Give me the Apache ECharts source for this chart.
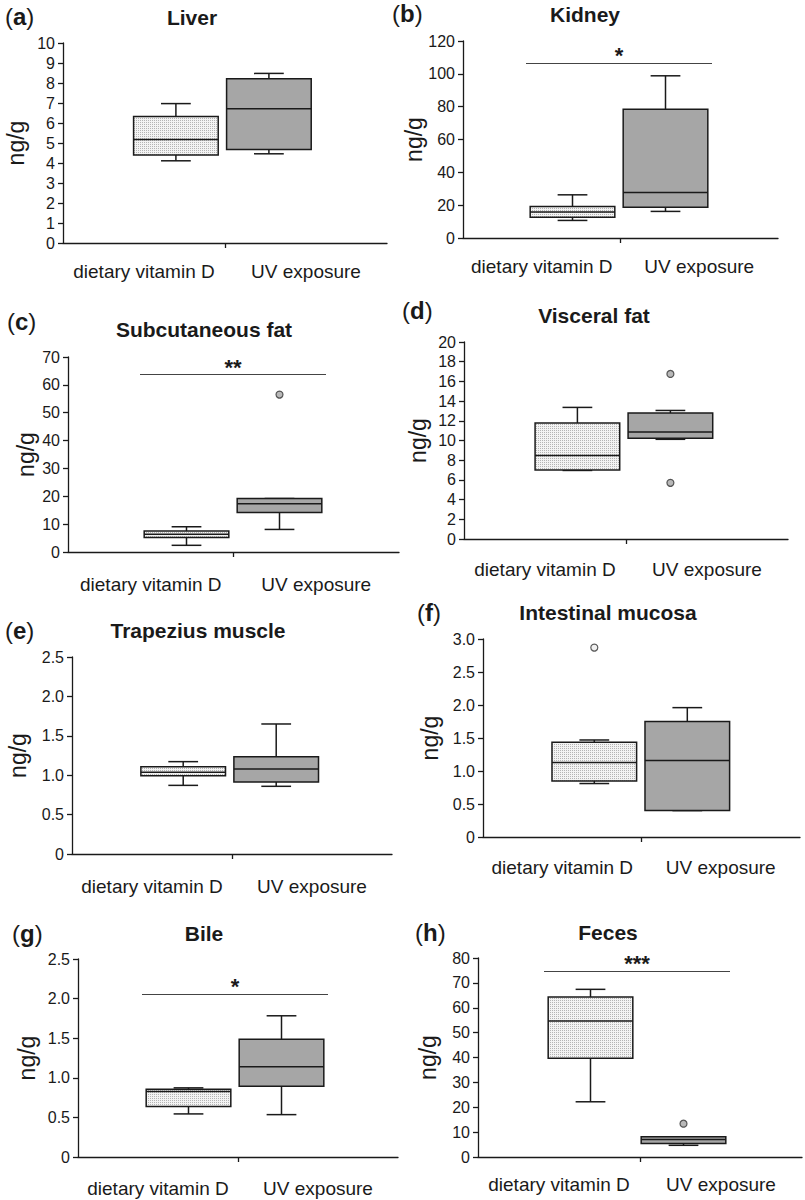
<!DOCTYPE html>
<html>
<head>
<meta charset="utf-8">
<title>Vitamin D tissue levels</title>
<script src="https://cdn.jsdelivr.net/npm/echarts@6/dist/echarts.min.js"></script>
<style>
  html, body { margin: 0; padding: 0; background: #fff; }
  #main { width: 805px; height: 1200px; }
</style>
</head>
<body>
<div id="main"></div>
<script>
// groups on every x axis
var groups = ['dietary vitamin D', 'UV exposure'];
var panelTags = ['a', 'b', 'c', 'd', 'e', 'f', 'g', 'h'];
var panelTitles = ['Liver', 'Kidney', 'Subcutaneous fat', 'Visceral fat',
    'Trapezius muscle', 'Intestinal mucosa', 'Bile', 'Feces'];

// y axis range per panel
var yMax = [10, 120, 70, 20, 2.5, 3.0, 2.5, 80];
var yStep = [1, 20, 10, 2, 0.5, 0.5, 0.5, 10];
var yDecimals = [0, 0, 0, 0, 1, 1, 1, 0];

// box statistics [min, Q1, median, Q3, max] : [dietary vitamin D, UV exposure]
var liverBox = [[4.11, 4.40, 5.18, 6.32, 6.97], [4.46, 4.67, 6.71, 8.21, 8.48]];
var kidneyBox = [[10.7, 12.6, 15.8, 19.2, 26.3], [16.2, 18.8, 27.7, 78.5, 98.8]];
var subcutBox = [[2.4, 5.25, 6.4, 7.5, 9.06], [8.1, 14.2, 17.3, 19.2, 19.2]];
var visceralBox = [[6.96, 7.0, 8.47, 11.77, 13.36], [10.12, 10.22, 10.86, 12.78, 13.05]];
var trapeziusBox = [[0.871, 0.994, 1.036, 1.108, 1.172], [0.859, 0.914, 1.079, 1.235, 1.65]];
var mucosaBox = [[0.81, 0.85, 1.127, 1.434, 1.47], [0.40, 0.40, 1.158, 1.75, 1.96]];
var bileBox = [[0.544, 0.637, 0.826, 0.856, 0.873], [0.535, 0.894, 1.138, 1.488, 1.783]];
var fecesBox = [[22.2, 39.7, 54.7, 64.3, 67.4], [4.7, 5.4, 7.0, 8.1, 8.1]];
var boxStats = [liverBox, kidneyBox, subcutBox, visceralBox, trapeziusBox, mucosaBox, bileBox, fecesBox];

// outliers [group index, value]
var outliers = [
    [], [], [[1, 56.5]], [[1, 16.76], [1, 5.7]],
    [], [[0, 2.87]], [], [[1, 13.4]]
];

// significance bar height and stars
var sigLevel = [null, 106.7, 63.8, null, null, null, 2.057, 74.8];
var sigStars = ['', '*', '**', '', '', '', '*', '***'];

// ---- layout (pixels) ----
var gridA = [
    [63, 43, 324, 200], [463, 41, 315, 197],
    [68, 357, 331, 195], [464, 342, 324, 197],
    [72, 657, 320, 197], [483, 639, 317, 198],
    [78, 959, 320, 198], [478, 958, 324, 199]
];
var boxMid = [222.4, 619, 233, 623.9, 229.7, 640.8, 235, 637];
var boxSpan = 186;
var titlePos = [[192, 17], [585, 14], [204, 329], [594, 315], [198, 630], [608, 612], [204, 933], [608, 932]];
var tagPos = [[5, 16], [392, 13], [7, 321], [402, 310], [5, 630], [417, 612], [12, 933], [415, 932]];
var nameGaps = [36, 38, 31, 35, 43, 42, 40, 39];
var labelGaps = [19, 19, 23, 21, 23, 21, 22, 18];

var FONT = '"Liberation Sans", Arial, sans-serif';
var INK = '#1a1a1a';
var UV_GRAY = '#a6a6a6';

// stippled fill for the dietary group
var dotCanvas = document.createElement('canvas');
dotCanvas.width = 2;
dotCanvas.height = 2;
var dctx = dotCanvas.getContext('2d');
dctx.fillStyle = '#f3f3f3';
dctx.fillRect(0, 0, 2, 2);
dctx.fillStyle = '#b4b4b4';
dctx.fillRect(0, 0, 1, 1);
var dottedFill = {image: dotCanvas, repeat: 'repeat'};

function renderBox(params, api) {
    var g = api.value(0);
    var lo = api.coord([g, api.value(1)]);
    var q1 = api.coord([g, api.value(2)]);
    var md = api.coord([g, api.value(3)]);
    var q3 = api.coord([g, api.value(4)]);
    var hi = api.coord([g, api.value(5)]);
    var band = api.size([1, 0])[0];
    var bw = band * 0.91, cw = band * 0.32;
    var cx = lo[0];
    var ls = {stroke: INK, lineWidth: 1.5};
    return {
        type: 'group',
        children: [
            {type: 'line', shape: {x1: cx, y1: hi[1], x2: cx, y2: q3[1]}, style: ls},
            {type: 'line', shape: {x1: cx, y1: q1[1], x2: cx, y2: lo[1]}, style: ls},
            {type: 'line', shape: {x1: cx - cw / 2, y1: hi[1], x2: cx + cw / 2, y2: hi[1]}, style: ls},
            {type: 'line', shape: {x1: cx - cw / 2, y1: lo[1], x2: cx + cw / 2, y2: lo[1]}, style: ls},
            {type: 'rect', shape: {x: cx - bw / 2, y: q3[1], width: bw, height: q1[1] - q3[1]},
                style: {fill: g === 0 ? dottedFill : UV_GRAY, stroke: INK, lineWidth: 1.5}},
            {type: 'line', shape: {x1: cx - bw / 2, y1: md[1], x2: cx + bw / 2, y2: md[1]}, style: ls}
        ]
    };
}

var grids = [], xAxes = [], yAxes = [], series = [], graphics = [];

for (var i = 0; i < 8; i++) {
    var a = gridA[i];
    var gi = grids.length;
    grids.push({left: a[0], top: a[1], width: a[2], height: a[3], containLabel: false, outerBoundsMode: 'none'});
    grids.push({left: boxMid[i] - boxSpan / 2, top: a[1], width: boxSpan, height: a[3], containLabel: false, outerBoundsMode: 'none'});

    // visible axis with group labels
    xAxes.push({
        type: 'category', gridIndex: gi, position: 'bottom', data: groups,
        axisLine: {show: true, lineStyle: {color: INK, width: 1.3}},
        axisTick: {show: false},
        axisLabel: {interval: 0, fontSize: 19, color: INK, fontFamily: FONT, margin: labelGaps[i]},
        splitLine: {show: false}
    });
    // centre tick only
    xAxes.push({
        type: 'category', gridIndex: gi, position: 'bottom', boundaryGap: false, data: ['', '', ''],
        axisLine: {show: false},
        axisTick: {show: true, length: 5, lineStyle: {color: INK, width: 1.3},
            interval: function (idx) { return idx === 1; }},
        axisLabel: {show: false},
        splitLine: {show: false}
    });
    // box positions
    var bx = xAxes.length;
    xAxes.push({type: 'category', gridIndex: gi + 1, data: groups, show: false});

    var dec = yDecimals[i];
    yAxes.push({
        type: 'value', gridIndex: gi, min: 0, max: yMax[i], interval: yStep[i],
        name: 'ng/g', nameLocation: 'middle', nameGap: nameGaps[i], nameMoveOverlap: false,
        nameTextStyle: {fontSize: 23, color: INK, fontFamily: FONT},
        axisLine: {show: true, lineStyle: {color: INK, width: 1.3}},
        axisTick: {show: true, length: 5, lineStyle: {color: INK, width: 1.3}},
        axisLabel: {fontSize: 16, color: INK, fontFamily: FONT, margin: 8,
            formatter: (function (d) {
                return function (v) { return v === 0 ? '0' : v.toFixed(d); };
            })(dec)},
        splitLine: {show: false}
    });
    var by = yAxes.length;
    yAxes.push({type: 'value', gridIndex: gi + 1, min: 0, max: yMax[i], show: false, splitLine: {show: false}});

    var boxData = boxStats[i].map(function (s, k) { return [k].concat(s); });
    var boxSeries = {
        type: 'custom', xAxisIndex: bx, yAxisIndex: by,
        renderItem: renderBox, data: boxData,
        encode: {x: 0, y: [1, 2, 3, 4, 5]}, silent: true
    };
    if (sigLevel[i] != null) {
        boxSeries.markLine = {
            silent: true, symbol: 'none', animation: false,
            lineStyle: {color: '#444', width: 1.2, type: 'solid'},
            label: {show: true, position: 'middle', formatter: sigStars[i], distance: -4,
                fontSize: 22, fontWeight: 'bold', color: INK, fontFamily: FONT},
            data: [{yAxis: sigLevel[i]}]
        };
    }
    series.push(boxSeries);

    series.push({
        type: 'scatter', xAxisIndex: bx, yAxisIndex: by, silent: true,
        symbol: 'circle', symbolSize: 7, z: 5,
        data: outliers[i].map(function (o) {
            return {value: o, itemStyle: {color: o[0] === 0 ? '#ececec' : UV_GRAY,
                borderColor: '#333', borderWidth: 1.2}};
        })
    });

    graphics.push({
        type: 'text', x: titlePos[i][0], y: titlePos[i][1],
        style: {text: panelTitles[i], fontSize: 21, fontWeight: 'bold', fontFamily: FONT,
            fill: INK, align: 'center', verticalAlign: 'middle'}
    });
    graphics.push({
        type: 'text', x: tagPos[i][0], y: tagPos[i][1],
        style: {text: '{p|(}{b|' + panelTags[i] + '}{p|)}', fontFamily: FONT, fill: INK,
            align: 'left', verticalAlign: 'middle',
            rich: {p: {fontSize: 24, fontFamily: FONT, fill: INK},
                   b: {fontSize: 24, fontWeight: 'bold', fontFamily: FONT, fill: INK}}}
    });
}

var myChart = echarts.init(document.getElementById('main'), null, {renderer: 'svg'});
myChart.setOption({
    animation: false,
    backgroundColor: '#fff',
    textStyle: {fontFamily: FONT},
    grid: grids,
    xAxis: xAxes,
    yAxis: yAxes,
    series: series,
    graphic: graphics
});
</script>
</body>
</html>
